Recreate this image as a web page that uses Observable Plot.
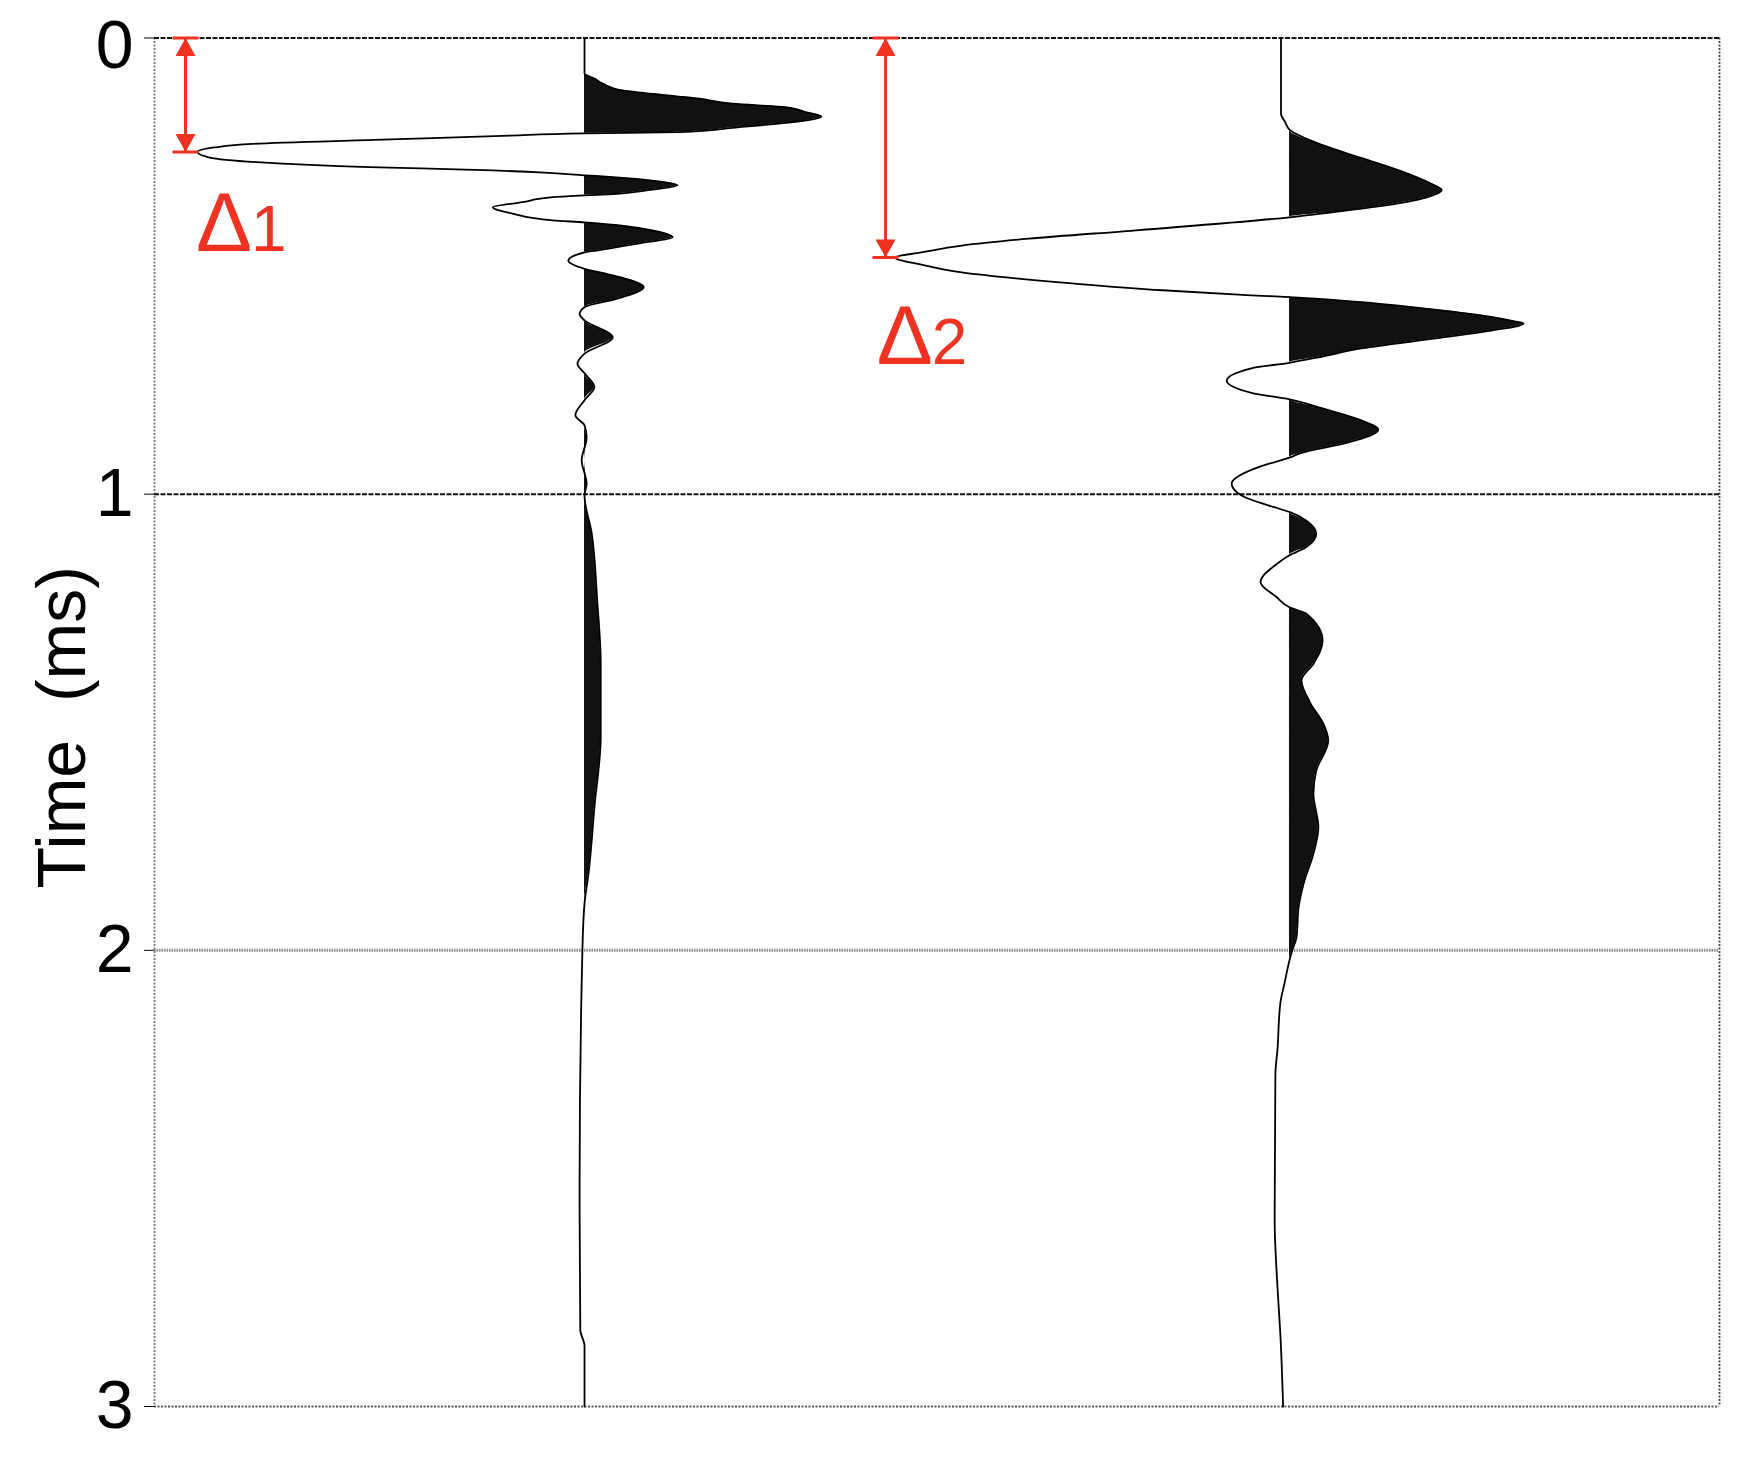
<!DOCTYPE html>
<html>
<head>
<meta charset="utf-8">
<script src="https://cdn.jsdelivr.net/npm/d3@7"></script>
<script src="https://cdn.jsdelivr.net/npm/@observablehq/plot@0.6"></script>
<style>
  html, body { margin: 0; padding: 0; background: #fff; }
  #chart svg { display: block; }
</style>
</head>
<body>
<div id="chart"></div>
<script>
// ---- Data (time in ms, amplitude in units of trace spacing) ----
const traceNames = ["trace 1", "trace 2"];
const traceOffsets = [1, 2];

const trace1Time = [0, 0.078, 0.089, 0.100, 0.115, 0.133, 0.144, 0.152, 0.163, 0.172, 0.197, 0.2065, 0.209,
  0.214, 0.223, 0.232, 0.240, 0.250, 0.262, 0.272, 0.283, 0.289, 0.295, 0.301,
  0.305, 0.312, 0.323, 0.334, 0.342, 0.345, 0.349, 0.360, 0.371, 0.385, 0.400, 0.404,
  0.411, 0.422, 0.437, 0.450, 0.466, 0.470, 0.488, 0.506, 0.517, 0.546, 0.572, 0.590,
  0.605, 0.619, 0.656, 0.692, 0.714, 0.735, 0.765, 0.794, 0.827, 0.849, 0.875, 0.926,
  0.977, 1.003, 1.084, 1.233, 1.373, 1.531, 1.687, 1.827, 1.897, 2.000, 2.513, 2.833, 2.866, 3.0];
const trace1Amp = [0, 0, 0.014, 0.026, 0.054, 0.163, 0.210, 0.287, 0.315, 0.336, 0.210, 0.135, 0,
  -0.106, -0.287, -0.471, -0.525, -0.549, -0.532, -0.465, -0.305, -0.156, -0.057, 0,
  0.040, 0.092, 0.132, 0.088, 0.040, 0, -0.045, -0.088, -0.130, -0.102, -0.045, 0,
  0.050, 0.096, 0.125, 0.078, 0.017, 0, -0.023, 0, 0.031, 0.084, 0.045, 0,
  -0.007, 0, 0.040, 0, -0.010, 0, 0.014, 0, -0.013, 0, 0.003, -0.004,
  0.003, 0, 0.010, 0.018, 0.023, 0.023, 0.014, 0.006, 0, -0.003, -0.007, -0.006, 0, 0];

const trace2Time = [0, 0.166, 0.185, 0.201, 0.235, 0.264, 0.294, 0.318, 0.333, 0.347, 0.367, 0.382, 0.393,
  0.421, 0.440, 0.455, 0.470, 0.481, 0.497, 0.514, 0.538, 0.553, 0.564, 0.568,
  0.578, 0.592, 0.606, 0.621, 0.626, 0.641, 0.660, 0.680, 0.700, 0.712,
  0.724, 0.751, 0.778, 0.792, 0.812, 0.836, 0.859, 0.886, 0.910, 0.920,
  0.939, 0.977, 1.003, 1.028, 1.039, 1.058, 1.087, 1.116, 1.134,
  1.153, 1.193, 1.226, 1.248, 1.262, 1.321, 1.372, 1.408, 1.459, 1.503, 1.540,
  1.606, 1.657, 1.730, 1.788, 1.854, 1.905, 1.971, 2.000, 2.022, 2.072, 2.116,
  2.217, 2.272, 2.592, 2.739, 2.840, 3.0];
const trace2Amp = [-0.012, -0.012, -0.006, 0, 0.047, 0.104, 0.162, 0.199, 0.216, 0.199, 0.136, 0.060, 0,
  -0.213, -0.370, -0.465, -0.522, -0.560, -0.522, -0.465, -0.308, -0.180, -0.054, 0,
  0.092, 0.186, 0.262, 0.319, 0.332, 0.288, 0.199, 0.104, 0.041, 0,
  -0.054, -0.089, -0.054, 0, 0.047, 0.098, 0.126, 0.085, 0.016, 0,
  -0.041, -0.082, -0.068, -0.023, 0, 0.024, 0.038, 0.024, 0,
  -0.018, -0.041, -0.018, 0, 0.024, 0.047, 0.034, 0.017, 0.030, 0.048, 0.055,
  0.038, 0.034, 0.041, 0.034, 0.020, 0.013, 0.010, 0.004, 0, -0.007, -0.013,
  -0.017, -0.020, -0.021, -0.017, -0.013, -0.009];

const yTicks = [0, 1, 2, 3];
const yLabel = "Time\u00a0\u00a0(ms)";

// Delay annotations
const deltaSymbol = ["\u0394", "\u0394"];
const deltaDigit = ["1", "2"];
const deltaArrowX = [0.434, 1.427];
const deltaTime = [0.250, 0.481];
const deltaLabelX = [0.4487, 1.4147];
const deltaLabelTime = [0.466, 0.714];

// ---- Build tables ----
const traces = [];
[[trace1Time, trace1Amp], [trace2Time, trace2Amp]].forEach(([T, A], k) => {
  if (T.length !== A.length) console.warn("length mismatch", k, T.length, A.length);
  T.forEach((t, i) => traces.push({trace: traceNames[k], offset: traceOffsets[k], t, amp: A[i]}));
});
const deltas = deltaSymbol.map((s, i) => ({
  sym: s, digit: deltaDigit[i], x: deltaArrowX[i], t: deltaTime[i], lx: deltaLabelX[i], lt: deltaLabelTime[i]
}));

const red = "#ef3323";
const arrowUp = {draw(ctx) {
  ctx.moveTo(0, 0); ctx.lineTo(10, 18); ctx.lineTo(-10, 18); ctx.closePath();
  ctx.moveTo(-13, -1.5); ctx.lineTo(13, -1.5); ctx.lineTo(13, 1.5); ctx.lineTo(-13, 1.5); ctx.closePath();
}};
const arrowDown = {draw(ctx) {
  ctx.moveTo(0, 0); ctx.lineTo(-10, -18); ctx.lineTo(10, -18); ctx.closePath();
  ctx.moveTo(-13, -1.5); ctx.lineTo(13, -1.5); ctx.lineTo(13, 1.5); ctx.lineTo(-13, 1.5); ctx.closePath();
}};

const xDomain = [0.39, 2.61];

const chart = Plot.plot({
  width: 1761,
  height: 1457,
  marginLeft: 154,
  marginRight: 42,
  marginTop: 37.5,
  marginBottom: 51,
  x: {domain: xDomain, axis: null},
  y: {domain: [0, 3], reverse: true, ticks: yTicks, tickSize: 10, tickPadding: 11, label: null, tickFormat: d => String(d)},
  style: {fontFamily: "'Liberation Sans', Arial, sans-serif", fontSize: "68px", background: "#fff", color: "#000"},
  marks: [
    // frame and grid
    Plot.ruleX([xDomain[0]], {stroke: "#777", strokeWidth: 1.8, strokeDasharray: "2,1.5"}),
    Plot.ruleX([xDomain[1]], {stroke: "#444", strokeWidth: 1.8, strokeDasharray: "2,1.5"}),
    Plot.ruleY([yTicks[0], yTicks[1]], {stroke: "#111", strokeWidth: 2, strokeDasharray: "5,1.5"}),
    Plot.ruleY([yTicks[2]], {stroke: "#888", strokeWidth: 3, strokeDasharray: "1.5,1"}),
    Plot.ruleY([yTicks[3]], {stroke: "#555", strokeWidth: 2, strokeDasharray: "2,1.5"}),
    Plot.text([yLabel], {text: d => d, frameAnchor: "left", textAnchor: "middle", rotate: -90,
      dx: -91, dy: 5, fontSize: 68, fill: "#000"}),
    // variable-area fill of positive lobes
    Plot.areaX(traces, {y: "t", x1: "offset", x2: d => d.offset + Math.max(0, d.amp), z: "trace",
      curve: "monotone-y", fill: "#111"}),
    // wiggle traces
    Plot.lineX(traces, {x: d => d.offset + d.amp, y: "t", z: "trace", curve: "monotone-y",
      stroke: "#000", strokeWidth: 1.8}),
    // delay arrows
    Plot.ruleX(deltas, {x: "x", y1: d => 0, y2: "t", stroke: red, strokeWidth: 3}),
    Plot.dot(deltas, {x: "x", y: d => 0, symbol: arrowUp, r: 10, fill: red, stroke: "none"}),
    Plot.dot(deltas, {x: "x", y: "t", symbol: arrowDown, r: 10, fill: red, stroke: "none"}),
    Plot.text(deltas, {x: "lx", y: "lt", text: "sym", textAnchor: "start", lineAnchor: "bottom",
      fontSize: 84, fill: red}),
    Plot.text(deltas, {x: "lx", y: "lt", text: "digit", textAnchor: "start", lineAnchor: "bottom",
      dx: 55, fontSize: 64, fill: red})
  ]
});
// style the library-drawn y-axis ticks and nudge the "0" label down as in the original
chart.querySelectorAll(".tick line").forEach(el => {
  el.setAttribute("stroke", "#333"); el.setAttribute("stroke-width", "1.8");
});
chart.querySelectorAll("text").forEach(el => {
  if (el.textContent.trim() === "0") {
    const cur = el.getAttribute("transform") || "";
    el.setAttribute("transform", (cur + " translate(0,8)").trim());
  }
});
document.getElementById("chart").appendChild(chart);
</script>
</body>
</html>
